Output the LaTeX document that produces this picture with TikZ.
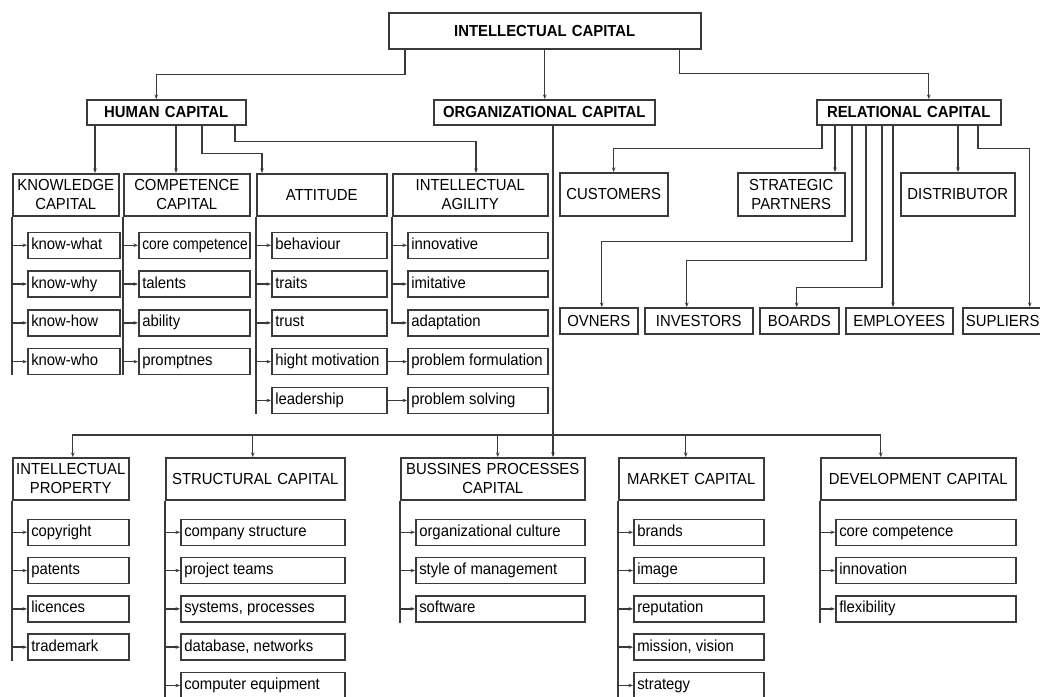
\documentclass[tikz,border=0pt]{standalone}
\usepackage{fontspec}
\setmainfont{Liberation Sans}[FakeStretch=0.93]
\usetikzlibrary{arrows.meta,calc}

\definecolor{lncol}{HTML}{3A3A3A}

\tikzset{
  box/.style={draw=lncol, line width=1.5pt, inner sep=0pt, anchor=north west, align=center,
    font=\fontsize{16}{19}\selectfont},
  topbox/.style={box, font=\fontsize{16}{19}\selectfont\bfseries},
  item/.style={draw=lncol, line width=1.5pt, anchor=north west, inner xsep=3.5pt, inner ysep=0pt,
    minimum height=26pt, text height=11.5pt, text depth=3.5pt, font=\fontsize{16}{19}\selectfont},
  arr/.style={draw=lncol, line width=1.4pt, -{Stealth[length=4.5pt,width=3.5pt]}},
  ln/.style={draw=lncol, line width=1.4pt}
}

% #1 head, #2 text width, #3 first gap, #4 row step, #5 entries
\newcommand{\sublist}[5]{
  \foreach \t [count=\i] in {#5} {
    \node[item] (#1\i) at ($(#1.south west)+(15,{#3+#4*(\i-1)})$) {\makebox[#2][l]{\t}};
    \draw[arr] (#1\i.west -| #1.south west) -- (#1\i.west);
    \draw[ln] ($(#1.south west |- #1\i.north)-(0,{ifthenelse(\i==1,#3,#4-26)})$)
      -- (#1.south west |- #1\i.south);
  }
}

\begin{document}
\begin{tikzpicture}[x=1pt, y=-1pt]
  \useasboundingbox (0,0) rectangle (1040,696);

  \node[topbox, text width=312pt, minimum height=36pt] (ic) at (388,12) {INTELLECTUAL CAPITAL};
  \node[topbox, text width=159pt, minimum height=25pt] (hc) at (86,99) {HUMAN CAPITAL};
  \node[topbox, text width=221pt, minimum height=25pt] (oc) at (433,99) {ORGANIZATIONAL CAPITAL};
  \node[topbox, text width=184pt, minimum height=25pt] (rc) at (816,99) {RELATIONAL CAPITAL};

  \draw[arr] ([xshift=17pt]ic.south west) -- ++(0,25) -| ([xshift=-10pt]hc.north);
  \draw[arr] (ic.south) -- (ic.south |- oc.north);
  \draw[arr] ([xshift=-22pt]ic.south east) -- ++(0,24) -| ([xshift=20pt]rc.north);

  % human capital
  \node[box, text width=106pt, minimum height=42pt] (kc) at (12,173) {KNOWLEDGE\\CAPITAL};
  \node[box, text width=126pt, minimum height=42pt] (cc) at (123,173) {COMPETENCE\\CAPITAL};
  \node[box, text width=130pt, minimum height=42pt] (at) at (256,173) {ATTITUDE};
  \node[box, text width=155pt, minimum height=42pt] (ia) at (392,173) {INTELLECTUAL\\AGILITY};

  \draw[arr] ([xshift=9pt]hc.south west) -- ([xshift=9pt]hc.south west |- kc.north);
  \draw[arr] ([xshift=90pt]hc.south west) -- ([xshift=90pt]hc.south west |- cc.north);
  \draw[arr] ([xshift=116pt]hc.south west) -- ++(0,28) -| ([xshift=6pt]at.north west);
  \draw[arr] ([xshift=149pt]hc.south west) -- ++(0,16) -| ([xshift=84pt]ia.north west);

  \sublist{kc}{85pt}{15}{38.8}{know-what, know-why, know-how, know-who}
  \sublist{cc}{104pt}{15}{38.8}{{\addfontfeature{FakeStretch=0.86}core competence}, talents, ability, promptnes}
  \sublist{at}{108pt}{15}{38.8}{behaviour, traits, trust, hight motivation, leadership}

  \foreach \t [count=\i] in {innovative, imitative, adaptation, problem formulation, problem solving}
    \node[item] (ia\i) at ($(ia.south west)+(15,{15+38.8*(\i-1)})$) {\makebox[133pt][l]{\t}};
  \draw[arr] (ia.south west) |- (ia3.west);
  \foreach \i in {1,2}
    \draw[arr] (ia\i.west -| ia.south west) -- (ia\i.west);
  \foreach \i in {4,5}
    \draw[arr] (at\i.east) -- (ia\i.west);

  % relational capital
  \node[box, text width=108pt, minimum height=43pt] (cu) at (559,172) {CUSTOMERS};
  \node[box, text width=107pt, minimum height=43pt] (sp) at (737,172) {STRATEGIC\\PARTNERS};
  \node[box, text width=114pt, minimum height=43pt] (di) at (900,172) {DISTRIBUTOR};
  \node[box, text width=78pt, minimum height=26pt] (ov) at (559,307) {OVNERS};
  \node[box, text width=108pt, minimum height=26pt] (iv) at (644,307) {INVESTORS};
  \node[box, text width=79pt, minimum height=26pt] (bo) at (759,307) {BOARDS};
  \node[box, text width=107pt, minimum height=26pt] (em) at (845,307) {EMPLOYEES};
  \node[box, text width=80pt, minimum height=26pt] (su) at (962,307) {SUPLIERS};

  \draw[arr] ([xshift=6pt]rc.south west) -- ++(0,23) -| (cu.north);
  \draw[arr] ([xshift=19pt]rc.south west) -- ([xshift=19pt]rc.south west |- sp.north);
  \draw[arr] ([xshift=36pt]rc.south west) -- ++(0,116) -| ([xshift=3pt]ov.north);
  \draw[arr] ([xshift=50pt]rc.south west) -- ++(0,135) -| ([xshift=-12pt]iv.north);
  \draw[arr] ([xshift=66pt]rc.south west) -- ++(0,162) -| ([xshift=-2.5pt]bo.north);
  \draw[arr] ([xshift=77pt]rc.south west) -- ([xshift=77pt]rc.south west |- em.north);
  \draw[arr] ([xshift=142pt]rc.south west) -- ([xshift=142pt]rc.south west |- di.north);
  \draw[arr] ([xshift=162pt]rc.south west) -- ++(0,23) -| ([xshift=27pt]su.north);

  % organizational capital
  \node[box, text width=116pt, minimum height=42pt] (ip) at (12,457) {INTELLECTUAL\\PROPERTY};
  \node[box, text width=179pt, minimum height=42pt] (sc) at (165,457) {STRUCTURAL CAPITAL};
  \node[box, text width=184pt, minimum height=42pt] (bp) at (400,457) {BUSSINES PROCESSES\\CAPITAL};
  \node[box, text width=145pt, minimum height=42pt] (mc) at (618,457) {MARKET CAPITAL};
  \node[box, text width=195pt, minimum height=42pt] (dc) at (820,457) {DEVELOPMENT CAPITAL};

  \coordinate (bar) at (553,435);
  \draw[arr] ([xshift=120pt]oc.south west) -- ([xshift=120pt]oc.south west |- bp.north);
  \foreach \n/\dx in {ip/2, sc/-2.5, bp/5, mc/-5.5, dc/-37.5}
    \draw[arr] (bar) -| ([xshift=\dx pt]\n.north);

  \sublist{ip}{94pt}{18}{38.3}{copyright, patents, licences, trademark}
  \sublist{sc}{157pt}{18}{38.3}{company structure, project teams, {systems, processes}, {database, networks}, computer equipment}
  \sublist{bp}{162pt}{18}{38.3}{organizational culture, style of management, software}
  \sublist{mc}{123pt}{18}{38.3}{brands, image, reputation, {mission, vision}, strategy}
  \sublist{dc}{173pt}{18}{38.3}{core competence, innovation, flexibility}
\end{tikzpicture}
\end{document}
